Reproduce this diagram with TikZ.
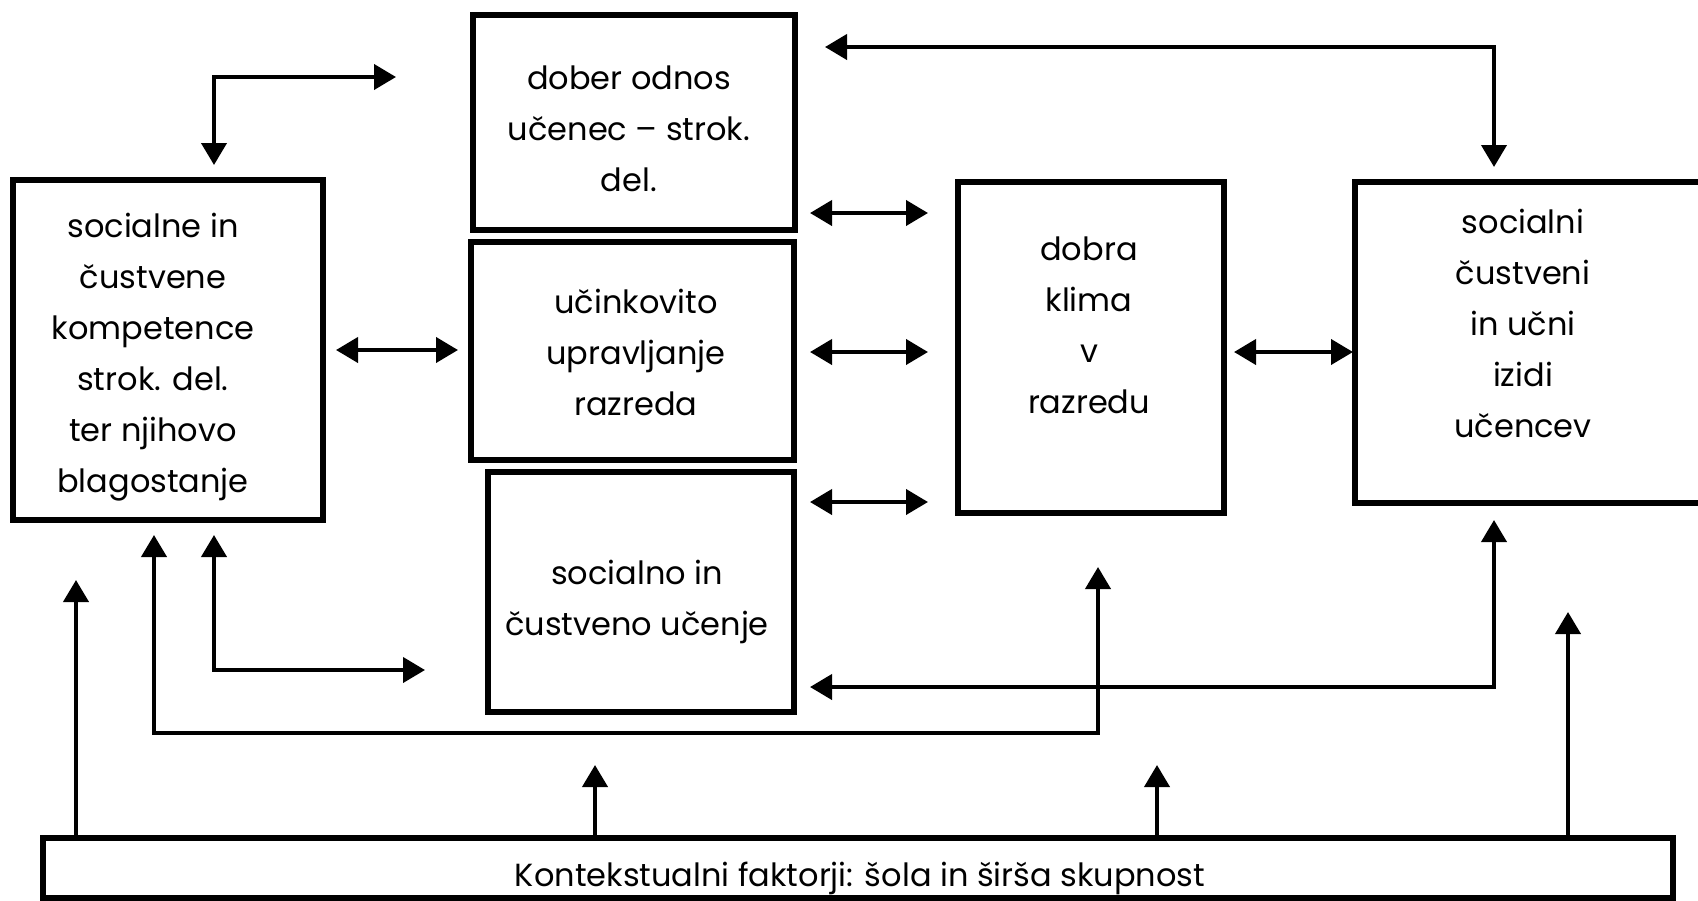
\documentclass[tikz,border=0pt]{standalone}
\usepackage{fontspec}
\setmainfont{Poppins}
\usetikzlibrary{arrows.meta}
\begin{document}
\begin{tikzpicture}[x=1pt,y=-1pt,
  box/.style={draw=black,line width=6pt,rectangle,inner sep=0pt,outer sep=0pt},
  txt/.style={align=center,inner sep=0pt,anchor=base,font=\fontsize{32}{51}\selectfont},
  conn/.style={line width=4pt,line join=miter},
  tip/.style={-{Triangle[length=22pt,width=25pt]}},
  tips/.style={{Triangle[length=22pt,width=25pt]}-{Triangle[length=22pt,width=25pt]}}]
\useasboundingbox (0,0) rectangle (1698,900);
\clip (0,0) rectangle (1698,900);
% boxes
\node[box,minimum width=310pt,minimum height=340pt] (L) at (168,350) {};
\node[box,minimum width=322pt,minimum height=215pt] (T) at (634,122.5) {};
\node[box,minimum width=323pt,minimum height=218pt] (M) at (632.5,351) {};
\node[box,minimum width=306pt,minimum height=240pt] (S) at (641,592) {};
\node[box,minimum width=266pt,minimum height=331pt] (K) at (1091,347.5) {};
\node[box,minimum width=348pt,minimum height=321pt] (R) at (1529,342.5) {};
\node[box,minimum width=1630pt,minimum height=60pt] (B) at (858,868) {};
% texts (anchor = baseline of last line)
\node[txt] (Lt) at (153,492) {socialne in\\čustvene\\kompetence\\strok. del.\\ter njihovo\\blagostanje};
\node[txt] (Tt) at (629,191) {dober odnos\\učenec – strok.\\del.};
\node[txt] (Mt) at (636,415) {učinkovito\\upravljanje\\razreda};
\node[txt] (St) at (637,635) {socialno in\\čustveno učenje};
\node[txt] (Kt) at (1089,413) {dobra\\klima\\v\\razredu};
\node[txt] (Rt) at (1523,437) {socialni\\čustveni\\in učni\\izidi\\učencev};
\node[txt] (Bt) at (860,886) {Kontekstualni faktorji: šola in širša skupnost};
% coordinates
\coordinate (tlV) at (214,165);
\coordinate (tlC) at (214,77);
\coordinate (tlH) at (396,77);
\coordinate (trH) at (825,47);
\coordinate (trC) at (1494,47);
\coordinate (trV) at (1494,167);
\coordinate (a1l) at (810,213);
\coordinate (a1r) at (928,213);
\coordinate (a2l) at (810,352);
\coordinate (a2r) at (928,352);
\coordinate (a3l) at (810,502);
\coordinate (a3r) at (928,502);
\coordinate (lml) at (336,350);
\coordinate (lmr) at (458,350);
\coordinate (krl) at (1234,352);
\coordinate (krr) at (1353,352);
\coordinate (b1t) at (214,535);
\coordinate (b1c) at (214,670);
\coordinate (b1e) at (425,670);
\coordinate (b2t) at (154,535);
\coordinate (b2c) at (154,733);
\coordinate (b2d) at (1098,733);
\coordinate (b2e) at (1098,567);
\coordinate (b3l) at (810,687);
\coordinate (b3c) at (1494,687);
\coordinate (b3t) at (1494,520);
\coordinate (c1b) at (76,838);
\coordinate (c1t) at (76,580);
\coordinate (c2b) at (595,838);
\coordinate (c2t) at (595,765);
\coordinate (c3b) at (1157,838);
\coordinate (c3t) at (1157,765);
\coordinate (c4b) at (1568,838);
\coordinate (c4t) at (1568,612);
% connectors
\draw[conn,tips] (tlV) -- (tlC) -- (tlH);
\draw[conn,tips] (trH) -- (trC) -- (trV);
\draw[conn,tips] (a1l) -- (a1r);
\draw[conn,tips] (a2l) -- (a2r);
\draw[conn,tips] (a3l) -- (a3r);
\draw[conn,tips] (lml) -- (lmr);
\draw[conn,tips] (krl) -- (krr);
\draw[conn,tips] (b1t) -- (b1c) -- (b1e);
\draw[conn,tips] (b2t) -- (b2c) -- (b2d) -- (b2e);
\draw[conn,tips] (b3l) -- (b3c) -- (b3t);
\draw[conn,tip] (c1b) -- (c1t);
\draw[conn,tip] (c2b) -- (c2t);
\draw[conn,tip] (c3b) -- (c3t);
\draw[conn,tip] (c4b) -- (c4t);
\end{tikzpicture}
\end{document}
